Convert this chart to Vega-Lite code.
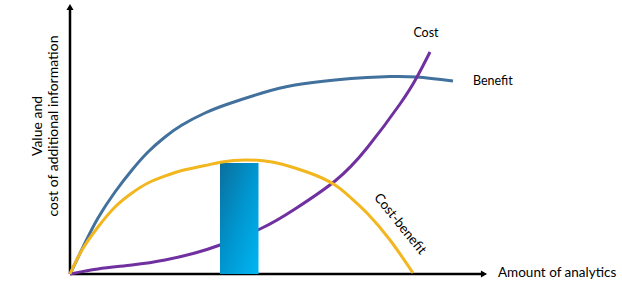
{
  "$schema": "https://vega.github.io/schema/vega-lite/v6.json",
  "width": 622,
  "height": 306,
  "autosize": "none",
  "padding": 0,
  "background": "white",
  "config": {"view": {"stroke": null}},
  "datasets": {
    "curves": [
      {"series": "Benefit", "x": 0, "y": 0},
      {"series": "Benefit", "x": 15, "y": 31},
      {"series": "Benefit", "x": 28, "y": 56},
      {"series": "Benefit", "x": 45, "y": 82},
      {"series": "Benefit", "x": 62, "y": 104},
      {"series": "Benefit", "x": 78, "y": 122},
      {"series": "Benefit", "x": 95, "y": 137},
      {"series": "Benefit", "x": 112, "y": 149},
      {"series": "Benefit", "x": 135, "y": 161},
      {"series": "Benefit", "x": 158, "y": 170},
      {"series": "Benefit", "x": 192, "y": 181},
      {"series": "Benefit", "x": 225, "y": 189},
      {"series": "Benefit", "x": 265, "y": 194},
      {"series": "Benefit", "x": 297, "y": 196.5},
      {"series": "Benefit", "x": 320, "y": 197.5},
      {"series": "Benefit", "x": 347, "y": 197},
      {"series": "Benefit", "x": 383, "y": 193},
      {"series": "Cost", "x": 0, "y": 0},
      {"series": "Cost", "x": 28, "y": 5},
      {"series": "Cost", "x": 62, "y": 9},
      {"series": "Cost", "x": 95, "y": 14},
      {"series": "Cost", "x": 125, "y": 21},
      {"series": "Cost", "x": 150, "y": 29},
      {"series": "Cost", "x": 192, "y": 46},
      {"series": "Cost", "x": 225, "y": 65},
      {"series": "Cost", "x": 265, "y": 93},
      {"series": "Cost", "x": 297, "y": 126},
      {"series": "Cost", "x": 330, "y": 170},
      {"series": "Cost", "x": 347, "y": 197},
      {"series": "Cost", "x": 360, "y": 222},
      {"series": "Cost-benefit", "x": 0, "y": 0},
      {"series": "Cost-benefit", "x": 12, "y": 24},
      {"series": "Cost-benefit", "x": 28, "y": 47},
      {"series": "Cost-benefit", "x": 45, "y": 67},
      {"series": "Cost-benefit", "x": 62, "y": 81},
      {"series": "Cost-benefit", "x": 78, "y": 91},
      {"series": "Cost-benefit", "x": 95, "y": 98},
      {"series": "Cost-benefit", "x": 112, "y": 103.5},
      {"series": "Cost-benefit", "x": 135, "y": 108.5},
      {"series": "Cost-benefit", "x": 152, "y": 112},
      {"series": "Cost-benefit", "x": 175, "y": 114},
      {"series": "Cost-benefit", "x": 202, "y": 112},
      {"series": "Cost-benefit", "x": 225, "y": 106},
      {"series": "Cost-benefit", "x": 245, "y": 99},
      {"series": "Cost-benefit", "x": 265, "y": 89},
      {"series": "Cost-benefit", "x": 280, "y": 77},
      {"series": "Cost-benefit", "x": 297, "y": 61},
      {"series": "Cost-benefit", "x": 320, "y": 34},
      {"series": "Cost-benefit", "x": 343, "y": 1}
    ]
  },
  "layer": [
    {
      "data": {"values": [{"x": 0, "y": 0, "x2": 0, "y2": 264}, {"x": 0, "y": 0, "x2": 412, "y2": 0}]},
      "mark": {"type": "rule", "color": "black", "strokeWidth": 2.5},
      "encoding": {
        "x": {"field": "x", "type": "quantitative", "scale": {"domain": [-70, 552], "nice": false, "zero": false}, "axis": null},
        "y": {"field": "y", "type": "quantitative", "scale": {"domain": [-32, 274], "nice": false, "zero": false}, "axis": null},
        "x2": {"field": "x2"},
        "y2": {"field": "y2"}
      }
    },
    {
      "data": {"values": [{"x": 0, "y": 267, "shape": "triangle-up"}, {"x": 414, "y": 0, "shape": "triangle-right"}]},
      "mark": {"type": "point", "filled": true, "color": "black", "opacity": 1, "size": 50},
      "encoding": {
        "x": {"field": "x", "type": "quantitative"},
        "y": {"field": "y", "type": "quantitative"},
        "shape": {"field": "shape", "type": "nominal", "scale": null, "legend": null}
      }
    },
    {
      "data": {"name": "curves"},
      "transform": [{"filter": "datum.series !== 'Cost-benefit'"}],
      "mark": {"type": "line", "interpolate": "natural", "strokeWidth": 3, "strokeCap": "butt"},
      "encoding": {
        "x": {"field": "x", "type": "quantitative"},
        "y": {"field": "y", "type": "quantitative"},
        "color": {"field": "series", "type": "nominal", "scale": {"domain": ["Benefit", "Cost", "Cost-benefit"], "range": ["#41719C", "#7030A0", "#F2B61F"]}, "legend": null}
      }
    },
    {
      "data": {"values": [{"x": 150, "x2": 188.5, "y": 0, "y2": 111}]},
      "mark": {"type": "rect", "color": {"gradient": "linear", "x1": 0, "y1": 0, "x2": 1, "y2": 1, "stops": [{"offset": 0, "color": "#0A6F9C"}, {"offset": 0.5, "color": "#0096D0"}, {"offset": 1, "color": "#00B6F2"}]}},
      "encoding": {
        "x": {"field": "x", "type": "quantitative"},
        "x2": {"field": "x2"},
        "y": {"field": "y", "type": "quantitative"},
        "y2": {"field": "y2"}
      }
    },
    {
      "data": {"name": "curves"},
      "transform": [{"filter": "datum.series === 'Cost-benefit'"}],
      "mark": {"type": "line", "interpolate": "natural", "strokeWidth": 3, "strokeCap": "butt"},
      "encoding": {
        "x": {"field": "x", "type": "quantitative"},
        "y": {"field": "y", "type": "quantitative"},
        "color": {"field": "series", "type": "nominal", "legend": null}
      }
    },
    {
      "data": {"values": [{"text": "Cost", "x": 356, "y": 241}]},
      "mark": {"type": "text", "font": "Lato", "fontSize": 12.5, "color": "black", "baseline": "middle", "align": "center"},
      "encoding": {
        "x": {"field": "x", "type": "quantitative"},
        "y": {"field": "y", "type": "quantitative"},
        "text": {"field": "text"}
      }
    },
    {
      "data": {"values": [{"text": "Benefit", "x": 403, "y": 193, "size": 12.5}, {"text": "Amount of analytics", "x": 428, "y": 1, "size": 13.5}]},
      "mark": {"type": "text", "font": "Lato", "color": "black", "baseline": "middle", "align": "left"},
      "encoding": {
        "x": {"field": "x", "type": "quantitative"},
        "y": {"field": "y", "type": "quantitative"},
        "text": {"field": "text"},
        "size": {"field": "size", "type": "quantitative", "scale": null}
      }
    },
    {
      "data": {"values": [{"text": "Cost-benefit", "x": 330, "y": 50}]},
      "mark": {"type": "text", "font": "Lato", "fontSize": 13.5, "color": "black", "baseline": "middle", "align": "center", "angle": 51},
      "encoding": {
        "x": {"field": "x", "type": "quantitative"},
        "y": {"field": "y", "type": "quantitative"},
        "text": {"field": "text"}
      }
    },
    {
      "data": {"values": [{"text": "Value and", "x": -32, "y": 148}, {"text": "cost of additional information", "x": -16, "y": 148}]},
      "mark": {"type": "text", "font": "Lato", "fontSize": 14, "color": "black", "baseline": "middle", "align": "center", "angle": 270},
      "encoding": {
        "x": {"field": "x", "type": "quantitative"},
        "y": {"field": "y", "type": "quantitative"},
        "text": {"field": "text"}
      }
    }
  ]
}
